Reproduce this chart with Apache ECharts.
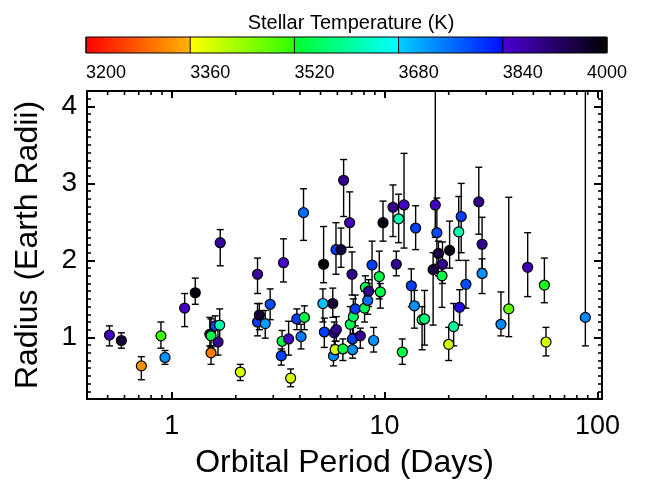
<!DOCTYPE html>
<html><head><meta charset="utf-8">
<script src="https://cdn.jsdelivr.net/npm/echarts@6/dist/echarts.min.js"></script>
<style>html,body{margin:0;padding:0;background:#fff}#c{width:647px;height:484px}</style>
</head><body><div id="c"></div>
<script>
// ---- data ----
const periods = [0.51,0.58,0.72,0.89,0.93,1.15,1.29,1.51,1.53,1.53,1.60,1.65,1.68,1.69,2.10,
  2.53,2.53,2.58,2.75,2.90,3.27,3.30,3.35,3.54,3.62,3.87,4.05,4.16,4.20,5.13,5.17,5.21,5.71,5.75,
  5.80,5.86,5.91,5.93,6.24,6.37,6.42,6.85,6.90,7.03,7.07,7.07,7.13,7.28,7.69,8.05,8.12,8.33,8.41,
  8.73,8.88,9.44,9.55,9.83,10.95,11.35,11.64,12.11,12.34,13.35,13.80,13.99,15.0,15.4,16.9,17.3,
  17.6,17.9,18.6,18.7,20.0,20.2,21.1,22.3,22.5,22.9,24.1,27.7,28.7,28.7,35.2,38.3,47.0,56.3,57.3,87.7];
const radii = [1.03,0.96,0.63,1.02,0.74,1.38,1.58,1.04,1.02,0.80,1.15,0.94,1.16,2.23,0.55,
  1.82,1.20,1.29,1.18,1.43,0.76,0.95,1.97,0.98,0.47,1.24,1.01,2.62,1.26,1.44,1.95,1.07,1.44,0.76,
  1.06,0.84,2.14,1.10,2.14,0.85,3.04,2.49,1.17,1.82,0.84,0.98,1.27,1.37,1.02,1.38,1.65,1.48,1.60,
  1.94,0.96,1.79,1.59,2.49,2.69,1.95,2.54,0.81,2.72,1.67,1.41,2.42,1.23,1.24,1.88,2.72,
  2.36,2.09,1.80,1.95,0.91,2.13,1.14,2.37,1.39,2.57,1.69,2.76,2.21,1.83,1.17,1.37,1.91,1.68,0.94,1.26];
const radiusLow = [0.89,0.86,0.45,0.86,0.65,1.14,1.43,0.89,0.87,0.65,0.98,0.77,0.97,1.93,0.44,
  1.57,1.02,1.10,0.99,1.23,0.64,0.82,1.72,0.77,0.36,1.10,0.85,2.26,1.10,1.20,1.71,0.87,1.26,0.63,
  0.90,0.74,1.82,0.95,1.91,0.70,2.57,2.17,0.95,1.55,0.73,0.85,1.05,1.15,0.86,1.20,1.40,1.30,1.40,
  1.60,0.81,1.50,1.38,2.25,2.31,1.80,2.23,0.65,2.16,1.40,1.12,2.14,0.84,0.90,1.16,2.30,
  1.95,1.80,1.39,1.70,0.70,1.90,0.89,2.00,1.16,2.10,1.38,2.34,1.89,1.57,1.02,1.01,1.53,1.45,0.76,0.89];
const radiusHigh = [1.15,1.06,0.75,1.20,0.83,1.57,1.77,1.26,1.24,0.89,1.28,1.10,1.37,2.40,0.65,
  2.03,1.44,1.44,1.35,1.63,0.85,1.09,2.28,1.21,0.59,1.37,1.17,2.93,1.41,1.63,2.44,1.25,1.64,0.86,
  1.20,0.95,2.49,1.27,2.42,0.98,3.31,2.89,1.40,2.11,0.99,1.13,1.50,1.55,1.12,1.60,1.80,1.70,1.75,
  2.25,1.13,2.12,1.70,2.77,2.98,2.12,2.86,0.98,3.39,1.89,1.61,2.71,1.40,1.61,2.10,5.00,
  2.81,2.25,1.97,2.24,1.13,2.51,1.44,2.83,1.62,3.00,2.00,3.21,2.56,2.02,1.59,2.82,2.36,2.03,1.13,5.00];
const temperatures = [3850,3960,3330,3510,3730,3850,3990,3890,3540,3310,3790,3890,3620,3880,3390,
  3880,3800,3960,3720,3790,3800,3540,3850,3850,3400,3800,3750,3760,3540,3690,3990,3800,3960,3740,
  3890,3390,3800,3890,3950,3540,3890,3860,3550,3890,3730,3800,3560,3800,3890,3550,3550,3760,3890,
  3800,3730,3540,3540,3990,3890,3890,3620,3540,3850,3800,3730,3800,3580,3580,3950,3850,
  3790,3950,3540,3890,3400,3990,3600,3620,3840,3800,3790,3890,3890,3730,3740,3480,3860,3520,3390,3740];
const periodTickValues = [1, 10, 100];
const periodMinorTicks = [0.5,0.6,0.7,0.8,0.9,2,3,4,5,6,7,8,9,20,30,40,50,60,70,80,90];
const colorbarTicks = [3200, 3360, 3520, 3680, 3840, 4000];
// colour table: [temperature, hex]
const colorTable = [[3200,'#ff0000'],[3358,'#ffb000'],[3362,'#ffff00'],[3518,'#30ff00'],[3522,'#00ff30'],
  [3678,'#00ffff'],[3682,'#00ccff'],[3838,'#0010ff'],[3842,'#4a00d0'],[4000,'#000000']];

// ---- helpers ----
function hexToRgb(h){return [parseInt(h.slice(1,3),16),parseInt(h.slice(3,5),16),parseInt(h.slice(5,7),16)];}
function tempColor(t){
  for(let i=1;i<colorTable.length;i++){
    if(t<=colorTable[i][0]){
      const a=colorTable[i-1], b=colorTable[i];
      const f=(t-a[0])/(b[0]-a[0]);
      const ca=hexToRgb(a[1]), cb=hexToRgb(b[1]);
      const c=ca.map((v,k)=>Math.round(v+(cb[k]-v)*f));
      return 'rgb('+c.join(',')+')';
    }
  }
  return colorTable[colorTable.length-1][1];
}

const FONT = "'Liberation Sans', Arial, Helvetica, sans-serif";
const pointData = periods.map((p,i)=>({value:[p, radii[i]], itemStyle:{color: tempColor(temperatures[i])}}));
const errData = periods.map((p,i)=>[p, radiusLow[i], radiusHigh[i]]);
const YMIN = 0.2, YMAX = 4.2, XMIN = 0.4, XMAX = 105;

const chart = echarts.init(document.getElementById('c'), null, {renderer:'canvas'});
const axisCommon = {
  axisLine:{show:true, onZero:false, lineStyle:{color:'#000', width:2}},
  splitLine:{show:false}
};
const option = {
  backgroundColor:'#fff',
  animation:false,
  title:{text:'Stellar Temperature (K)', left:346, top:8, textAlign:'center',
    textStyle:{fontFamily:FONT, fontSize:20, fontWeight:'normal', color:'#000'}},
  grid:[
    {left:87, top:91, width:515, height:311},
    {left:86, top:37, width:521, height:16}
  ],
  xAxis:[
    Object.assign({type:'log', logBase:10, min:XMIN, max:XMAX, gridIndex:0, position:'bottom',
      name:'Orbital Period (Days)', nameLocation:'middle', nameGap:48,
      nameTextStyle:{fontFamily:FONT, fontSize:32, color:'#000'},
      axisTick:{show:true, inside:true, length:7, lineStyle:{color:'#000', width:2}},
      axisLabel:{show:true, fontFamily:FONT, fontSize:27, color:'#000', margin:14,
        showMinLabel:false, showMaxLabel:false,
        formatter:(v)=>{const l=Math.log10(v); const r=Math.round(l);
          return (Math.abs(l-r)<1e-6 && periodTickValues.indexOf(Math.pow(10,r))>=0)? String(Math.pow(10,r)) : '';}}
    }, axisCommon),
    Object.assign({type:'log', logBase:10, min:XMIN, max:XMAX, gridIndex:0, position:'top',
      axisTick:{show:true, inside:true, length:7, lineStyle:{color:'#000', width:2}},
      axisLabel:{show:false}}, axisCommon),
    {type:'value', gridIndex:1, min:3200, max:4000, interval:160,
      axisLine:{show:false}, axisTick:{show:false}, splitLine:{show:false},
      axisLabel:{show:true, fontFamily:FONT, fontSize:18, color:'#000', align:'left',
        alignMaxLabel:'center', margin:11, formatter:(v)=>String(v)}}
  ],
  yAxis:[
    Object.assign({type:'value', min:YMIN, max:YMAX, gridIndex:0, position:'left',
      name:'Radius (Earth Radii)', nameLocation:'middle', nameGap:43,
      nameTextStyle:{fontFamily:FONT, fontSize:32, color:'#000'},
      axisTick:{show:true, inside:true, length:8, lineStyle:{color:'#000', width:2}},
      minorTick:{show:true, splitNumber:10, length:4, lineStyle:{color:'#000', width:1.6}},
      axisLabel:{show:true, fontFamily:FONT, fontSize:28, color:'#000', margin:10,
        showMinLabel:false, showMaxLabel:false,
        formatter:(v)=> Math.abs(v-Math.round(v))<1e-9 ? String(Math.round(v)) : ''}
    }, axisCommon),
    Object.assign({type:'value', min:YMIN, max:YMAX, gridIndex:0, position:'right',
      axisTick:{show:true, inside:true, length:8, lineStyle:{color:'#000', width:2}},
      minorTick:{show:true, splitNumber:10, length:4, lineStyle:{color:'#000', width:1.6}},
      axisLabel:{show:false}}, axisCommon),
    {type:'value', gridIndex:1, min:0, max:1, show:false}
  ],
  series:[
    // colour bar
    {type:'custom', xAxisIndex:2, yAxisIndex:2, silent:true,
      data:[[3200,0,4000,1]], encode:{x:[0,2], y:[1,3]},
      renderItem:(params, api)=>{
        const a = api.coord([api.value(0), api.value(1)]);
        const b = api.coord([api.value(2), api.value(3)]);
        const lo = api.value(0), hi = api.value(2);
        const stops = colorTable.map(s=>({offset:(s[0]-lo)/(hi-lo), color:s[1]}));
        const children = [{type:'rect', shape:{x:a[0], y:b[1], width:b[0]-a[0], height:a[1]-b[1]},
          style:{fill:new echarts.graphic.LinearGradient(0,0,1,0,stops), stroke:'#000', lineWidth:1}}];
        colorbarTicks.forEach(t=>{
          const p = api.coord([t, 0]);
          children.push({type:'line', shape:{x1:p[0], y1:a[1], x2:p[0], y2:b[1]}, style:{stroke:'#000', lineWidth:1}});
        });
        return {type:'group', children};
      }},
    // minor ticks of the log axes
    {type:'custom', xAxisIndex:0, yAxisIndex:0, silent:true, z:5,
      data:periodMinorTicks.map(v=>[v]),
      renderItem:(params, api)=>{
        const v = api.value(0);
        const pb = api.coord([v, YMIN]);
        const pt = api.coord([v, YMAX]);
        const st = {stroke:'#000', lineWidth:1.6};
        return {type:'group', children:[
          {type:'line', shape:{x1:pb[0], y1:pb[1], x2:pb[0], y2:pb[1]-4}, style:st},
          {type:'line', shape:{x1:pt[0], y1:pt[1], x2:pt[0], y2:pt[1]+4}, style:st}
        ]};
      }},
    // error bars
    {type:'custom', xAxisIndex:0, yAxisIndex:0, silent:true, z:3,
      data:errData,
      renderItem:(params, api)=>{
        const cs = params.coordSys;
        const x = api.value(0);
        const p1 = api.coord([x, api.value(1)]);
        const p2 = api.coord([x, api.value(2)]);
        const top = cs.y, bot = cs.y + cs.height;
        const st = {stroke:'#000', lineWidth:1.4};
        const cap = 3.5;
        const children = [];
        const y1 = Math.min(bot, p1[1]), y2 = Math.max(top, p2[1]);
        children.push({type:'line', shape:{x1:p1[0], y1:y1, x2:p2[0], y2:y2}, style:st});
        if (p1[1] <= bot) children.push({type:'line', shape:{x1:p1[0]-cap, y1:p1[1], x2:p1[0]+cap, y2:p1[1]}, style:st});
        if (p2[1] >= top) children.push({type:'line', shape:{x1:p2[0]-cap, y1:p2[1], x2:p2[0]+cap, y2:p2[1]}, style:st});
        return {type:'group', children};
      }},
    // points
    {type:'scatter', xAxisIndex:0, yAxisIndex:0, z:4, symbol:'circle', symbolSize:10,
      itemStyle:{borderColor:'#000', borderWidth:1.2, opacity:1},
      data:pointData}
  ]
};
chart.setOption(option);
</script>
</body></html>
